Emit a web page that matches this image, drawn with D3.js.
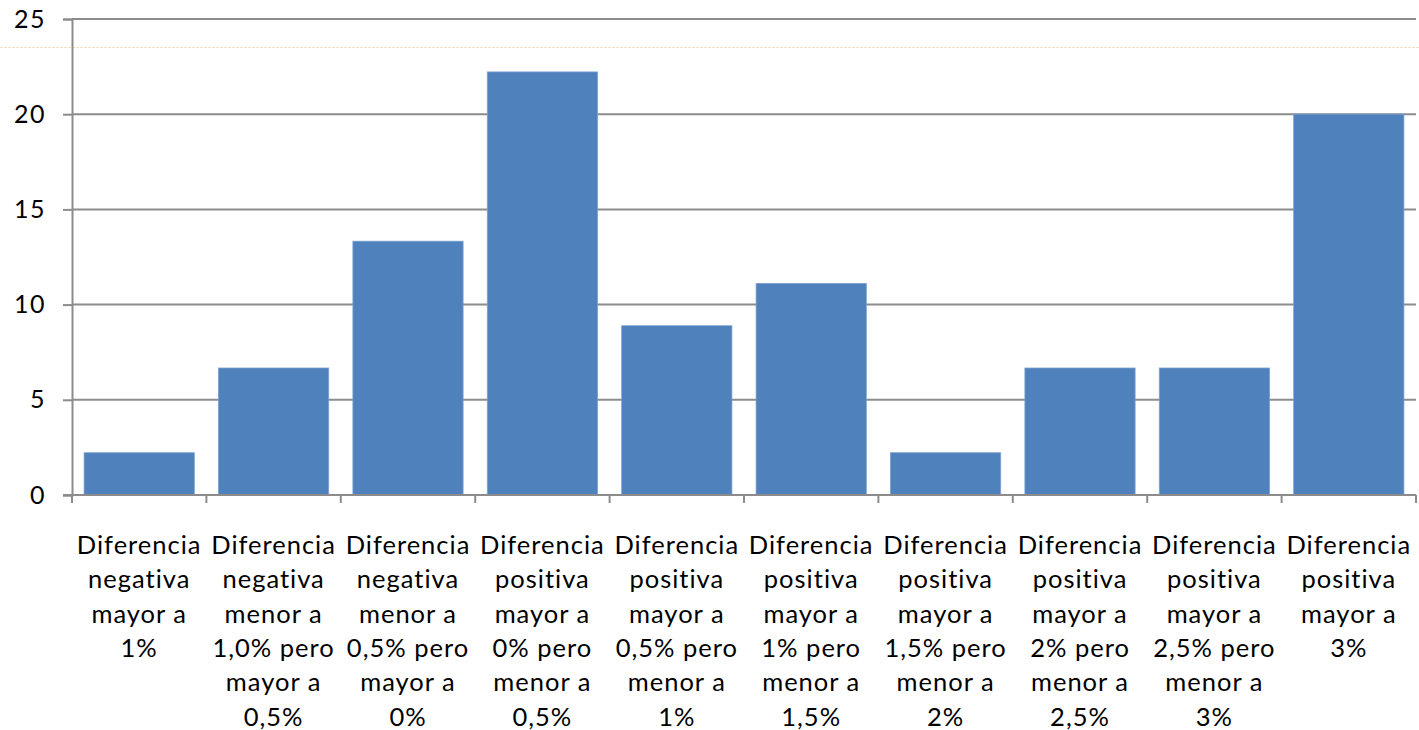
<!DOCTYPE html>
<html>
<head>
<meta charset="utf-8">
<script src="https://cdn.jsdelivr.net/npm/d3@7"></script>
<style>
  html, body { margin: 0; padding: 0; background: #fff; }
  svg { display: block; }
  text { font-family: Lato, "Open Sans", "Liberation Sans", sans-serif; fill: #000; }
</style>
</head>
<body>
<svg id="chart" width="1419" height="730"></svg>
<script>
// Category labels, one entry per bar, split into the lines shown under the axis
const categories = [
  ["Diferencia", "negativa", "mayor a", "1%"],
  ["Diferencia", "negativa", "menor a", "1,0% pero", "mayor a", "0,5%"],
  ["Diferencia", "negativa", "menor a", "0,5% pero", "mayor a", "0%"],
  ["Diferencia", "positiva", "mayor a", "0% pero", "menor a", "0,5%"],
  ["Diferencia", "positiva", "mayor a", "0,5% pero", "menor a", "1%"],
  ["Diferencia", "positiva", "mayor a", "1% pero", "menor a", "1,5%"],
  ["Diferencia", "positiva", "mayor a", "1,5% pero", "menor a", "2%"],
  ["Diferencia", "positiva", "mayor a", "2% pero", "menor a", "2,5%"],
  ["Diferencia", "positiva", "mayor a", "2,5% pero", "menor a", "3%"],
  ["Diferencia", "positiva", "mayor a", "3%"]
];

// Percentage of cases in each category
const values = [2.22, 6.67, 13.33, 22.22, 8.89, 11.11, 2.22, 6.67, 6.67, 20.0];

// Y axis ticks
const yTicks = [0, 5, 10, 15, 20, 25];

const svg = d3.select("#chart");
const plotLeft = 72, plotRight = 1416, plotTop = 19, plotBottom = 495;

const x = d3.scaleBand()
  .domain(d3.range(categories.length))
  .range([plotLeft, plotRight])
  .paddingInner(0.18)
  .paddingOuter(0.09);

const y = d3.scaleLinear().domain([0, 25]).range([plotBottom, plotTop]);

// faint separator line across the top
svg.append("line")
  .attr("x1", 0).attr("x2", 1419)
  .attr("y1", 47.5).attr("y2", 47.5)
  .attr("stroke", "#f1e2c6").attr("stroke-width", 1)
  .attr("stroke-dasharray", "3,1");

// horizontal gridlines
svg.append("g")
  .selectAll("line")
  .data(yTicks.filter(d => d > 0))
  .join("line")
  .attr("x1", plotLeft).attr("x2", plotRight)
  .attr("y1", d => y(d)).attr("y2", d => y(d))
  .attr("stroke", "#8c8c8c").attr("stroke-width", 2);

// bars
svg.append("g")
  .selectAll("rect")
  .data(values)
  .join("rect")
  .attr("x", (d, i) => x(i))
  .attr("y", d => y(d))
  .attr("width", x.bandwidth())
  .attr("height", d => plotBottom - y(d))
  .attr("fill", "#4f81bd")
  .attr("stroke", "#7a9fd0")
  .attr("stroke-width", 0.8);

// y axis
const yAxis = svg.append("g")
  .attr("transform", `translate(${plotLeft},0)`)
  .call(d3.axisLeft(y).tickValues(yTicks).tickSize(9).tickPadding(17));
yAxis.select(".domain").attr("stroke", "#8c8c8c").attr("stroke-width", 2);
yAxis.selectAll(".tick line").attr("stroke", "#8c8c8c").attr("stroke-width", 2);
yAxis.selectAll(".tick text")
  .style("font-family", "Lato, 'Open Sans', sans-serif")
  .style("letter-spacing", "1.5px")
  .attr("font-size", 25).attr("fill", "#000");

// x axis baseline with boundary ticks between categories
const xg = svg.append("g");
xg.append("line")
  .attr("x1", plotLeft - 9).attr("x2", plotRight)
  .attr("y1", plotBottom).attr("y2", plotBottom)
  .attr("stroke", "#8c8c8c").attr("stroke-width", 2);
const boundaries = d3.range(categories.length + 1)
  .map(i => plotLeft + i * (plotRight - plotLeft) / categories.length);
xg.selectAll("line.tk")
  .data(boundaries)
  .join("line")
  .attr("class", "tk")
  .attr("x1", d => d).attr("x2", d => d)
  .attr("y1", plotBottom).attr("y2", plotBottom + 8)
  .attr("stroke", "#8c8c8c").attr("stroke-width", 2);

// category labels
const labels = svg.append("g")
  .selectAll("text")
  .data(categories)
  .join("text")
  .attr("text-anchor", "middle")
  .attr("font-size", 25.5)
  .style("letter-spacing", "1px")
  .attr("x", (d, i) => x(i) + x.bandwidth() / 2)
  .attr("y", 554);
labels.selectAll("tspan")
  .data((d, i) => d.map(s => ({ s, i })))
  .join("tspan")
  .attr("x", d => x(d.i) + x.bandwidth() / 2)
  .attr("dy", (d, j) => j === 0 ? 0 : 34.3)
  .text(d => d.s);
</script>
</body>
</html>
